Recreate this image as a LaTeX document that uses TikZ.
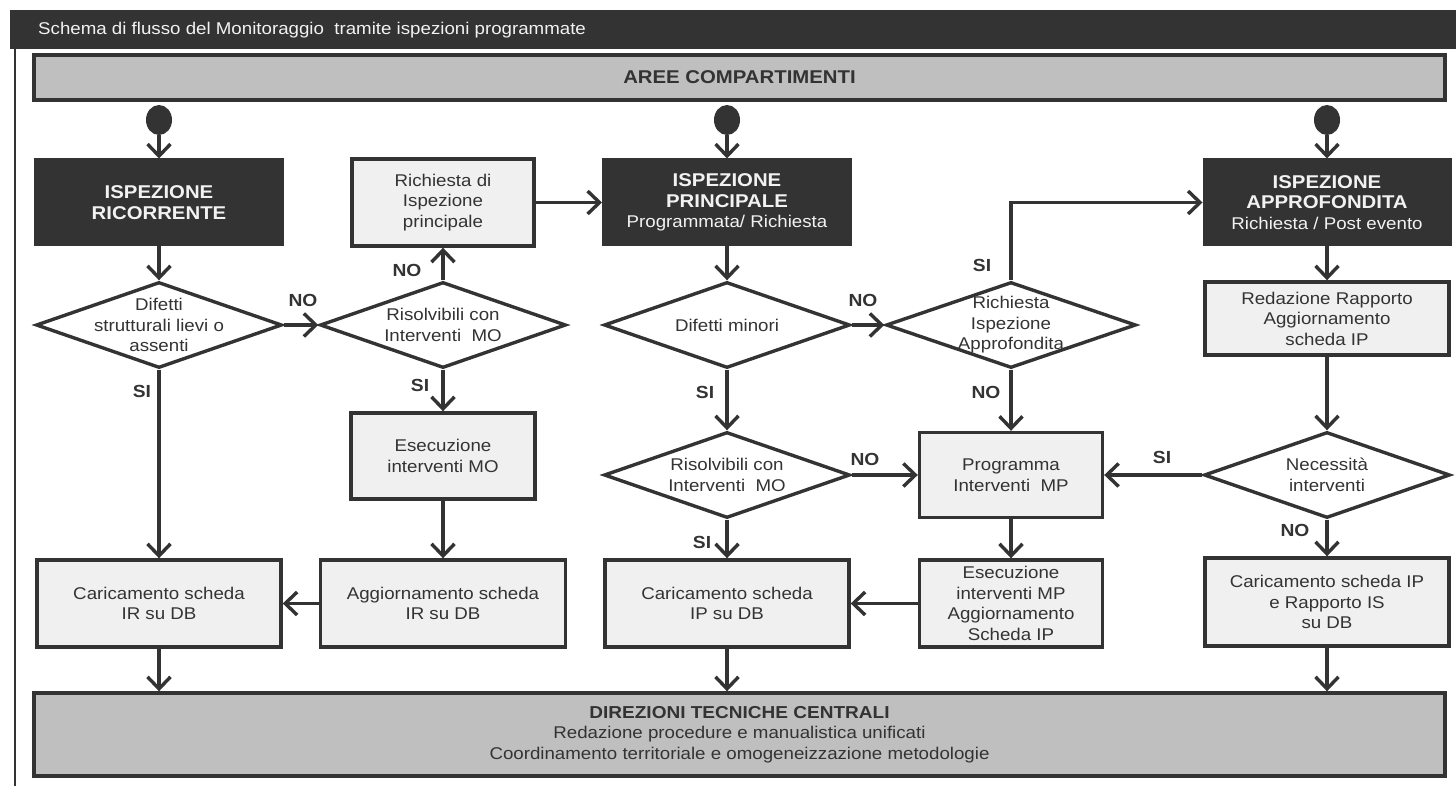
\documentclass[tikz,border=0pt]{standalone}
\usepackage{fontspec}
\setmainfont{Liberation Sans}[FakeStretch=1.1]
\usetikzlibrary{arrows.meta,shapes.geometric}
\definecolor{dk}{HTML}{333333}
\definecolor{lf}{HTML}{F0F0F0}
\definecolor{gf}{HTML}{BFBFBF}
\definecolor{wt}{HTML}{F2F2F2}
\newcommand\bodyf{\fontsize{17}{20.5}\selectfont}
\newcommand\titf{\fontsize{18.5}{24}\selectfont\bfseries}
\newcommand\labf{\fontsize{17.5}{19}\selectfont\bfseries}
\begin{document}
\begin{tikzpicture}[x=1pt,y=-1pt,
  lbox/.style={draw=dk, line width=3.4pt, fill=lf, align=center, inner sep=0pt, font=\bodyf, text=dk},
  dbox/.style={draw=dk, fill=dk, line width=1pt, align=center, inner sep=0pt, font=\bodyf, text=wt},
  dec/.style={shape=diamond, draw=dk, line width=3.4pt, fill=white, inner sep=0pt, minimum width=246, minimum height=86},
  dtxt/.style={align=center, font=\bodyf, text=dk, inner sep=0pt},
  gbox/.style={draw=dk, line width=3.4pt, fill=gf, align=center, inner sep=0pt, text=dk, minimum width=1411},
  startdot/.style={shape=ellipse, fill=dk, draw=none, minimum width=26, minimum height=30, inner sep=0pt},
  arr/.style={draw=dk, line width=3.4pt, -{Straight Barb[length=12pt,width=23pt]}},
  lab/.style={font=\labf, text=dk, inner sep=0pt}]
\useasboundingbox (0,0) rectangle (1456,786);
% title bar
\node[fill=dk, draw=none, minimum width=1446, minimum height=39, inner sep=0pt, anchor=north west] (bar) at (10,10) {};
\node[anchor=west, text=wt, font=\fontsize{17}{20}\selectfont, inner sep=0pt] (bartxt) at (38,30) {Schema di flusso del Monitoraggio \ tramite ispezioni programmate};
\draw[dk, line width=2.5pt] (15,49) -- (15,786);
% bands
\node[gbox, minimum height=45] (aree) at (739.5,77.5) {\titf AREE COMPARTIMENTI};
\node[gbox, minimum height=83, font=\bodyf] (dtc) at (739.5,734.5) {{\fontsize{17.3}{20.5}\selectfont\bfseries DIREZIONI TECNICHE CENTRALI}\\Redazione procedure e manualistica unificati\\Coordinamento territoriale e omogeneizzazione metodologie};
% start dots
\node[startdot] (s1) at (159,120) {};
\node[startdot] (s2) at (727,120) {};
\node[startdot] (s3) at (1327,120) {};
% top row
\node[dbox, minimum width=249, minimum height=87] (ir) at (159,202.5) {\titf ISPEZIONE\\\titf RICORRENTE};
\node[lbox, minimum width=182, minimum height=87] (rq) at (443,202.5) {Richiesta di\\Ispezione\\principale};
\node[dbox, minimum width=249, minimum height=87] (ip) at (727,202.5) {\titf ISPEZIONE\\\titf PRINCIPALE\\Programmata/ Richiesta};
\node[dbox, minimum width=248, minimum height=87] (ia) at (1327,202.5) {\titf ISPEZIONE\\\titf APPROFONDITA\\Richiesta / Post evento};
% diamonds
\node[dec, label={[dtxt]center:{Difetti\\strutturali lievi o\\assenti}}] (d1) at (159,325) {};
\node[dec, label={[dtxt]center:{Risolvibili con\\Interventi \ MO}}] (d2) at (443,325) {};
\node[dec, label={[dtxt]center:{Difetti minori}}] (d3) at (727,325) {};
\node[dec, minimum width=250, label={[dtxt]center:{Richiesta\\Ispezione\\Approfondita}}] (d4) at (1011,325) {};
\node[dec, label={[dtxt]center:{Risolvibili con\\Interventi \ MO}}] (d5) at (727,475) {};
\node[dec, label={[dtxt]center:{Necessità\\interventi}}] (d6) at (1327,475) {};
% boxes
\node[lbox, minimum width=184, minimum height=86] (emo) at (443,456) {Esecuzione\\interventi MO};
\node[lbox, minimum width=244, minimum height=73] (red) at (1327,318.5) {Redazione Rapporto\\Aggiornamento\\scheda IP};
\node[lbox, minimum width=183, minimum height=85] (pmp) at (1011,475) {Programma\\Interventi \ MP};
\node[lbox, minimum width=244, minimum height=87] (cir) at (159,603.5) {Caricamento scheda\\IR su DB};
\node[lbox, minimum width=245, minimum height=87] (air) at (443,603.5) {Aggiornamento scheda\\IR su DB};
\node[lbox, minimum width=244, minimum height=87] (cip) at (727,603.5) {Caricamento scheda\\IP su DB};
\node[lbox, minimum width=183, minimum height=87] (emp) at (1011,603.5) {Esecuzione\\interventi MP\\Aggiornamento\\Scheda IP};
\node[lbox, minimum width=244, minimum height=88] (cis) at (1327,602) {Caricamento scheda IP\\e Rapporto IS\\su DB};
% labels
\node[lab] (l1) at (303,300) {NO};
\node[lab] (l2) at (407,270) {NO};
\node[lab] (l3) at (142,391) {SI};
\node[lab] (l4) at (420,385) {SI};
\node[lab] (l5) at (863,300) {NO};
\node[lab] (l6) at (982,265) {SI};
\node[lab] (l7) at (705,392) {SI};
\node[lab] (l8) at (986,392) {NO};
\node[lab] (l9) at (865,459) {NO};
\node[lab] (l10) at (702,542) {SI};
\node[lab] (l11) at (1162,457) {SI};
\node[lab] (l12) at (1295,530) {NO};
% connectors
\draw[arr] (s1.south) -- (ir.north);
\draw[arr] (s2.south) -- (ip.north);
\draw[arr] (s3.south) -- (ia.north);
\draw[arr] (ir.south) -- (d1.north);
\draw[arr] (d1.east) -- (d2.west);
\draw[arr] (d2.north) -- (rq.south);
\draw[arr] (d2.south) -- (emo.north);
\draw[arr] (emo.south) -- (air.north);
\draw[arr] (air.west) -- (cir.east);
\draw[arr] (d1.south) -- (cir.north);
\draw[arr] (cir.south) -- (cir.south |- dtc.north);
\draw[arr] (rq.east) -- (ip.west);
\draw[arr] (ip.south) -- (d3.north);
\draw[arr] (d3.east) -- (d4.west);
\draw[arr] (d4.north) |- (ia.west);
\draw[arr] (d4.south) -- (pmp.north);
\draw[arr] (d3.south) -- (d5.north);
\draw[arr] (d5.east) -- (pmp.west);
\draw[arr] (d5.south) -- (cip.north);
\draw[arr] (pmp.south) -- (emp.north);
\draw[arr] (emp.west) -- (cip.east);
\draw[arr] (cip.south) -- (cip.south |- dtc.north);
\draw[arr] (ia.south) -- (red.north);
\draw[arr] (red.south) -- (d6.north);
\draw[arr] (d6.west) -- (pmp.east);
\draw[arr] (d6.south) -- (cis.north);
\draw[arr] (cis.south) -- (cis.south |- dtc.north);
\end{tikzpicture}
\end{document}
